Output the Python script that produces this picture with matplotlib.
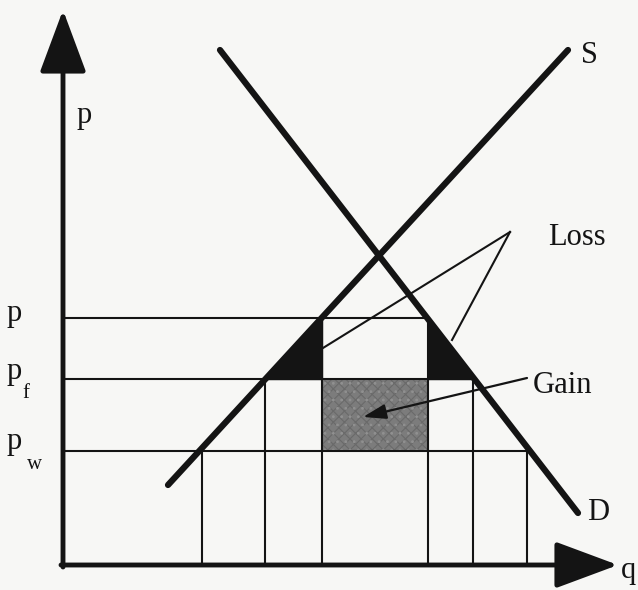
import matplotlib
matplotlib.use("Agg")
import matplotlib.pyplot as plt
from matplotlib.patches import FancyArrowPatch, Polygon, Rectangle

# ---- data (economic units) ----
price_names = ["p", "p", "p"]
price_subs = ["", "f", "w"]
p_dom = 24.7            # p (domestic price)
p_f = 18.6              # p_f
p_w = 11.4              # p_w

supply_q = [10.5, 50.5]
supply_p = [8.0, 51.5]
demand_q = [15.7, 51.5]
demand_p = [51.5, 5.2]

# quantities where supply / demand cross the price lines
q_s_pw, q_s_pf, q_s_p = 13.9, 20.2, 25.9
q_d_p, q_d_pf, q_d_pw = 36.5, 41.0, 46.4

x_max, y_max = 55.5, 55.5

plt.rcParams["font.family"] = ["Liberation Serif", "DejaVu Serif"]
plt.rcParams["hatch.linewidth"] = 0.8

fig = plt.figure(figsize=(6.38, 5.9), dpi=100)
bg = "#f7f7f5"
fig.patch.set_facecolor(bg)
ax = fig.add_axes([0, 0, 1, 1])
ax.set_facecolor(bg)
ax.set_xlim(-6.3, 57.5)
ax.set_ylim(-2.5, 56.5)
ax.axis("off")

thin = 1.5
ink = "#141414"
fs = 22

# gain rectangle
ax.add_patch(Rectangle((q_s_p, p_w), q_d_p - q_s_p, p_f - p_w,
                       facecolor="#7c7c7c", edgecolor="#6a6a6a", lw=0,
                       hatch="xxx", zorder=1))
ax.add_patch(Rectangle((q_s_p, p_w), q_d_p - q_s_p, p_f - p_w,
                       facecolor="none", edgecolor="#909090", lw=0, hatch="..",
                       zorder=1))

# loss triangles
ax.add_patch(Polygon([(q_s_pf, p_f), (q_s_p, p_f), (q_s_p, p_dom)],
                     closed=True, facecolor=ink, edgecolor=ink, zorder=2))
ax.add_patch(Polygon([(q_d_p, p_dom), (q_d_p, p_f), (q_d_pf, p_f)],
                     closed=True, facecolor=ink, edgecolor=ink, zorder=2))

# horizontal price lines
ax.plot([0, q_d_p], [p_dom, p_dom], color=ink, lw=thin, zorder=3)
ax.plot([0, q_d_pf], [p_f, p_f], color=ink, lw=thin, zorder=3)
ax.plot([0, q_d_pw], [p_w, p_w], color=ink, lw=thin, zorder=3)

# vertical quantity lines
for q, top in [(q_s_pw, p_w), (q_s_pf, p_f), (q_s_p, p_dom),
               (q_d_p, p_dom), (q_d_pf, p_f), (q_d_pw, p_w)]:
    ax.plot([q, q], [0, top], color=ink, lw=thin, zorder=3)

# supply and demand
ax.plot(supply_q, supply_p, color=ink, lw=4.5, solid_capstyle="round", zorder=4)
ax.plot(demand_q, demand_p, color=ink, lw=4.5, solid_capstyle="round", zorder=4)

# axes with arrows
style = "-|>,head_length=3.9,head_width=1.45"
ax.add_patch(FancyArrowPatch((0, -0.2), (0, y_max), arrowstyle=style,
                             mutation_scale=10, color=ink, lw=3.5,
                             shrinkA=0, shrinkB=0, zorder=5))
ax.add_patch(FancyArrowPatch((-0.2, 0), (x_max, 0), arrowstyle=style,
                             mutation_scale=10, color=ink, lw=3.5,
                             shrinkA=0, shrinkB=0, zorder=5))

# loss pointer lines
loss_apex = (44.7, 33.3)
ax.plot([loss_apex[0], q_s_p + 0.1], [loss_apex[1], 21.7], color=ink, lw=thin, zorder=5)
ax.plot([loss_apex[0], 38.9], [loss_apex[1], 22.5], color=ink, lw=thin, zorder=5)
ax.text(48.5, 32.0, "Loss", fontsize=fs, va="baseline", ha="left", color=ink)

# gain pointer
ax.annotate("", xy=(30.0, 14.8), xytext=(46.4, 18.7),
            arrowprops=dict(arrowstyle="-|>,head_length=1.4,head_width=0.45",
                            mutation_scale=10, color=ink, lw=1.6,
                            shrinkA=0, shrinkB=0), zorder=5)
ax.text(47.0, 17.2, "Gain", fontsize=fs, va="baseline", ha="left", color=ink)

# curve labels
ax.text(51.8, 50.2, "S", fontsize=fs, va="baseline", ha="left", color=ink)
ax.text(52.4, 4.5, "D", fontsize=fs, va="baseline", ha="left", color=ink)
ax.text(55.8, -1.3, "q", fontsize=fs, va="baseline", ha="left", color=ink)
ax.text(1.4, 44.2, "p", fontsize=fs, va="baseline", ha="left", color=ink)

# price labels on the left
base_y = [24.4, 18.6, 11.6]
sub_y = [0, 16.7, 9.6]
sub_x = [0, -4.1, -3.6]
for name, sub, by, sy, sx in zip(price_names, price_subs, base_y, sub_y, sub_x):
    ax.text(-5.6, by, name, fontsize=fs, va="baseline", ha="left", color=ink)
    if sub:
        ax.text(sx, sy, sub, fontsize=15, va="baseline", ha="left", color=ink)

fig.savefig("out.png", dpi=100, facecolor=fig.get_facecolor())
